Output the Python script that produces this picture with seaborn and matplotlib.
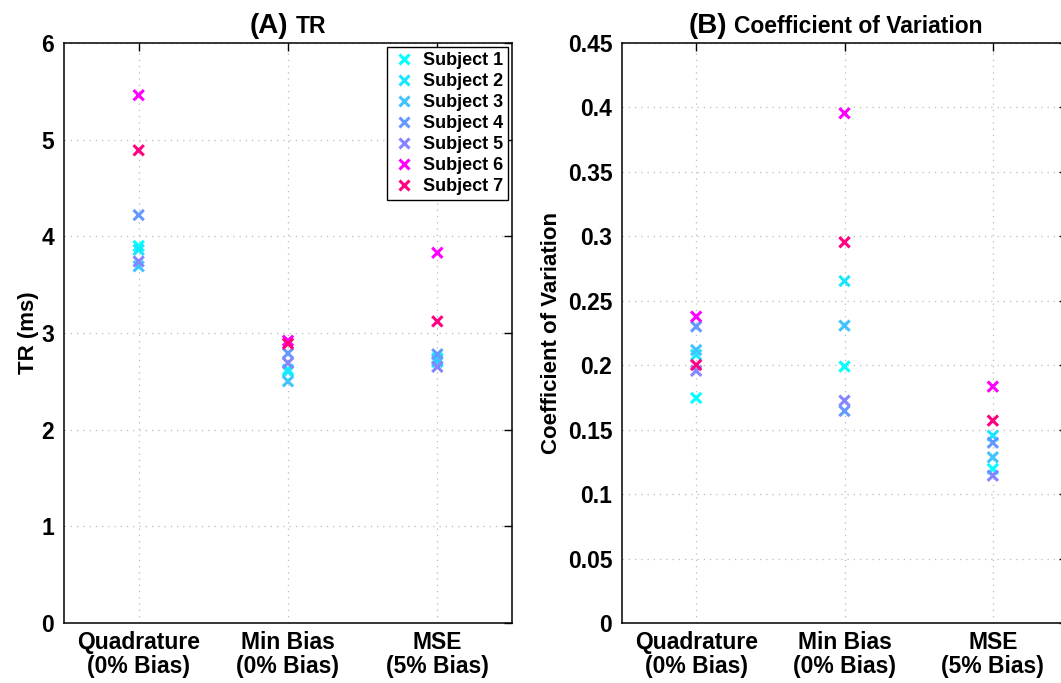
import numpy as np
import pandas as pd
import seaborn as sns
import matplotlib.pyplot as plt

methods = ["Quadrature\n(0% Bias)", "Min Bias\n(0% Bias)", "MSE\n(5% Bias)"]
subjects = [f"Subject {i}" for i in range(1, 8)]
colors = ["#00FFFF", "#1AE6FF", "#40C4FF", "#6699FF", "#8585FF", "#FF00FF", "#FF0080"]

tr_quad = [3.90, 3.86, 3.69, 4.22, 3.74, 5.46, 4.89]
tr_minb = [2.62, 2.60, 2.50, 2.79, 2.69, 2.92, 2.89]
tr_mse = [2.74, 2.70, 2.72, 2.78, 2.65, 3.83, 3.12]

cv_quad = [0.1746, 0.2080, 0.2118, 0.2300, 0.1957, 0.2377, 0.2002]
cv_minb = [0.1990, 0.2653, 0.2307, 0.1645, 0.1725, 0.3955, 0.2954]
cv_mse = [0.1195, 0.1453, 0.1286, 0.1399, 0.1143, 0.1834, 0.1570]

tr_ticks = [0, 1, 2, 3, 4, 5, 6]
cv_ticks = [0, 0.05, 0.1, 0.15, 0.2, 0.25, 0.3, 0.35, 0.4, 0.45]
cv_tick_labels = ["0", "0.05", "0.1", "0.15", "0.2", "0.25", "0.3", "0.35", "0.4", "0.45"]


def build(series):
    rows = []
    for mi, vals in enumerate(series):
        for s, v in zip(subjects, vals):
            rows.append({"method": mi + 1, "subject": s, "value": v})
    return pd.DataFrame(rows)


df_tr = build([tr_quad, tr_minb, tr_mse])
df_cv = build([cv_quad, cv_minb, cv_mse])

sns.set_theme(style="white")
plt.rcParams["font.family"] = ["Liberation Sans", "DejaVu Sans"]
plt.rcParams["font.weight"] = "bold"
for k in ["text.color", "axes.labelcolor", "xtick.color", "ytick.color", "axes.edgecolor"]:
    plt.rcParams[k] = "black"

TICK_FS = 16.5

fig = plt.figure(figsize=(10.61, 6.83), dpi=100)
W, H = 1061, 683
ax1 = fig.add_axes([64 / W, (H - 623) / H, 448 / W, 580 / H])
ax2 = fig.add_axes([622 / W, (H - 623) / H, 445 / W, 580 / H])

palette = dict(zip(subjects, colors))

for ax, df, show_leg in [(ax1, df_tr, True), (ax2, df_cv, False)]:
    sns.scatterplot(data=df, x="method", y="value", hue="subject", palette=palette,
                    marker="x", s=55, linewidth=2.2, ax=ax, legend=show_leg, zorder=3)
    ax.set_xlim(0.5, 3.5)
    ax.set_xticks([1, 2, 3])
    ax.set_xticklabels(methods, fontsize=TICK_FS, fontweight="bold", linespacing=1.05)
    ax.set_xlabel("")
    ax.grid(True, linestyle=(0, (1, 4)), color="#bbbbbb", linewidth=0.9)
    ax.tick_params(direction="in", top=True, right=True, length=6, width=1,
                   labelsize=TICK_FS, pad=7, color="black", labelcolor="black")
    ax.tick_params(axis="x", pad=6)
    for sp in ax.spines.values():
        sp.set_color("black")
        sp.set_linewidth(1.1)

ax1.set_ylim(0, 6)
ax1.set_yticks(tr_ticks)
ax1.set_yticklabels([str(t) for t in tr_ticks], fontsize=TICK_FS, fontweight="bold")
ax1.set_ylabel("TR (ms)", fontsize=16, fontweight="bold", labelpad=2, color="black")

ax2.set_ylim(0, 0.45)
ax2.set_yticks(cv_ticks)
ax2.set_yticklabels(cv_tick_labels, fontsize=TICK_FS, fontweight="bold")
ax2.set_ylabel("Coefficient of Variation", fontsize=16, fontweight="bold", labelpad=4, color="black")

leg = ax1.legend(loc="upper right", frameon=True, fancybox=False, fontsize=13,
                 borderaxespad=0.2, handletextpad=0.4, labelspacing=0.22,
                 handlelength=1.3, borderpad=0.3, markerscale=1.0)
leg.get_frame().set_edgecolor("black")
leg.get_frame().set_linewidth(1.0)
leg.get_frame().set_alpha(1)
for t in leg.get_texts():
    t.set_fontweight("bold")
    t.set_color("black")

fig.canvas.draw()
r = fig.canvas.get_renderer()
BIG, SMALL = 20, 16.5
for ax, big, small, cx in [(ax1, "(A)", "TR", 288), (ax2, "(B)", "Coefficient of Variation", 836)]:
    tmp1 = fig.text(0, 0, big, fontsize=BIG, fontweight="bold")
    tmp2 = fig.text(0, 0, small, fontsize=SMALL, fontweight="bold")
    w1 = tmp1.get_window_extent(r).width
    w2 = tmp2.get_window_extent(r).width
    tmp1.remove(); tmp2.remove()
    gap = 7
    total = w1 + gap + w2
    left = cx - total / 2
    fig.text(left / W, (H - 33) / H, big, fontsize=BIG, fontweight="bold", ha="left",
             va="baseline", color="black")
    fig.text((left + w1 + gap) / W, (H - 33) / H, small, fontsize=SMALL, fontweight="bold",
             ha="left", va="baseline", color="black")

fig.savefig("out.png", dpi=100)
